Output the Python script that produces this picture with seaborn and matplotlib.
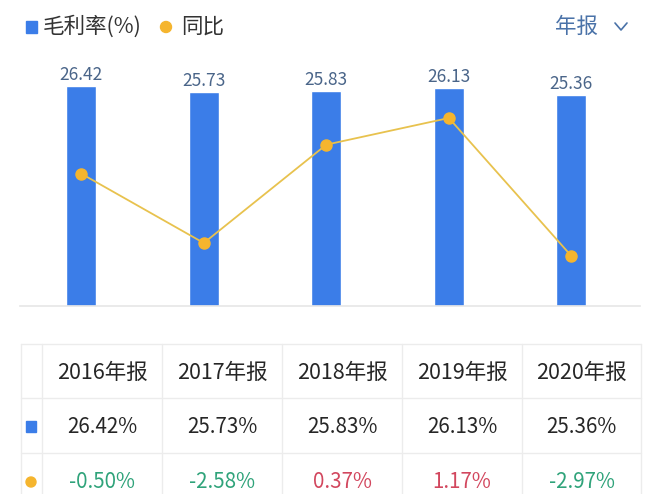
import matplotlib
matplotlib.use("Agg")
import matplotlib.pyplot as plt
import seaborn as sns
from matplotlib.patches import Rectangle, Circle

# Data
years = ["2016年报", "2017年报", "2018年报", "2019年报", "2020年报"]
margin = [26.42, 25.73, 25.83, 26.13, 25.36]
yoy = [-0.50, -2.58, 0.37, 1.17, -2.97]

BLUE = "#3b7de8"
LINE = "#e8c24e"
DOT = "#f5b52e"
GREEN = "#2fa37a"
RED = "#d2475e"
GRID = "#ececec"
TXT = "#262626"

sns.set_theme(style="white")
plt.rcParams["font.family"] = ["Noto Sans CJK SC", "DejaVu Sans"]

fig = plt.figure(figsize=(6.6, 4.94), dpi=100)
W, H = 660, 494

# chart area in pixels: x 20..640, y 56..306
ax = fig.add_axes([20 / W, (H - 306) / H, 620 / W, 250 / H])
sns.barplot(x=years, y=margin, ax=ax, color=BLUE, width=0.245, saturation=1)
ax.bar_label(ax.containers[0], fmt="%.2f", padding=1.5, fontsize=12.5, color="#4a6589")
ax.set_ylim(0, 30)

ax2 = ax.twinx()
sns.pointplot(x=years, y=yoy, ax=ax2, color=LINE, markers="o", markersize=8,
              linewidth=1.3)
for ln in ax2.lines:
    ln.set_markerfacecolor(DOT)
    ln.set_markeredgecolor(DOT)
ax2.set_ylim(-4.47, 3.03)

for a in (ax, ax2):
    a.set_xlim(-0.5, 4.56)
    a.set_xticks([])
    a.set_yticks([])
    a.set_xlabel("")
    a.set_ylabel("")
    for s in ["top", "left", "right"]:
        a.spines[s].set_visible(False)
ax.spines["bottom"].set_color("#e6e6e6")
ax.spines["bottom"].set_linewidth(1.2)
ax2.spines["bottom"].set_visible(False)

# overlay for legend and table, in pixel coordinates
ov = fig.add_axes([0, 0, 1, 1], zorder=-1)
ov.set_xlim(0, W)
ov.set_ylim(H, 0)
ov.axis("off")

ov.add_patch(Rectangle((26, 21), 11, 12, color=BLUE))
ov.text(43, 27, "毛利率(%)", fontsize=15.5, color="#333333", va="center", ha="left")
ov.add_patch(Circle((166, 27), 5.5, color=DOT))
ov.text(181, 27, "同比", fontsize=15.5, color="#333333", va="center", ha="left")
ov.text(577, 27, "年报", fontsize=15.5, color="#4a72a8", va="center", ha="center")
ov.plot([615, 621, 627], [23, 30, 23], color="#4a72a8", lw=1.2)

# table
col_edges = [21, 42, 162, 282, 402, 522, 641]
row_edges = [344, 398, 453]
for y in row_edges:
    ov.plot([21, 641], [y, y], color=GRID, lw=1)
for x in col_edges:
    ov.plot([x, x], [344, 494], color=GRID, lw=1)

centers = [(col_edges[i + 1] + col_edges[i + 2]) / 2 for i in range(5)]
for cx, yr, m, v in zip(centers, years, margin, yoy):
    ov.text(cx, 373, yr, fontsize=15.5, color=TXT, ha="center", va="center")
    ov.text(cx, 427, f"{m:.2f}%", fontsize=14.8, color=TXT, ha="center", va="center")
    ov.text(cx, 482, f"{v:.2f}%", fontsize=14.8, color=GREEN if v < 0 else RED,
            ha="center", va="center")
ov.add_patch(Rectangle((26, 421), 10, 11, color=BLUE))
ov.add_patch(Circle((31, 482), 5, color=DOT))

fig.savefig("out.png", dpi=100)
